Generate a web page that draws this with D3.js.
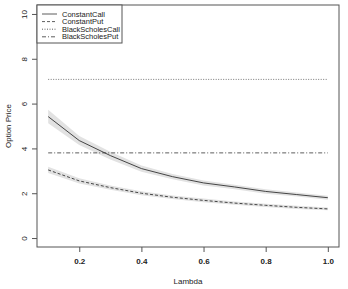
<!DOCTYPE html>
<html>
<head>
<meta charset="utf-8">
<script src="https://cdn.jsdelivr.net/npm/d3@7"></script>
<style>
  body { margin: 0; background: #fff; }
  svg { display: block; font-family: "Liberation Sans", Arial, sans-serif; }
</style>
</head>
<body>
<div id="chart"></div>
<script>
// data
var lambdas = [0.1, 0.2, 0.3, 0.4, 0.5, 0.6, 0.7, 0.8, 0.9, 1.0];
var constantCall = [5.42, 4.35, 3.68, 3.1, 2.74, 2.46, 2.28, 2.08, 1.94, 1.8];
var constantCallSpread = [0.3, 0.2, 0.17, 0.14, 0.12, 0.11, 0.1, 0.1, 0.09, 0.09];
var constantPut = [3.04, 2.55, 2.25, 2.0, 1.82, 1.68, 1.56, 1.46, 1.37, 1.3];
var constantPutSpread = [0.14, 0.12, 0.1, 0.09, 0.08, 0.08, 0.07, 0.07, 0.07, 0.06];
var blackScholesCall = 7.08;
var blackScholesPut = 3.8;
var xTicks = [0.2, 0.4, 0.6, 0.8, 1.0];
var yTicks = [0, 2, 4, 6, 8, 10];
var legendNames = ['ConstantCall', 'ConstantPut', 'BlackScholesCall', 'BlackScholesPut'];
var legendDash = [null, '3,2', '1,1.5', '4,2,1,2'];

var width = 348, height = 289;
var svg = d3.select('#chart').append('svg')
  .attr('width', width).attr('height', height);

// R pads 4% on each side
var x = d3.scaleLinear().domain([0.064, 1.036]).range([37, 339]);
var y = d3.scaleLinear().domain([-0.4, 10.4]).range([247, 5]);

var ink = '#333';
var axisCol = '#555';

// bands
var band = function (vals, spr) {
  return d3.area()
    .x(function (d, i) { return x(lambdas[i]); })
    .y0(function (d, i) { return y(vals[i] - spr[i]); })
    .y1(function (d, i) { return y(vals[i] + spr[i]); })(vals);
};
svg.append('path').attr('d', band(constantCall, constantCallSpread)).attr('fill', '#e2e2e2');
svg.append('path').attr('d', band(constantPut, constantPutSpread)).attr('fill', '#e2e2e2');

var line = d3.line()
  .x(function (d, i) { return x(lambdas[i]); })
  .y(function (d) { return y(d); });

svg.append('path').attr('d', line(constantCall))
  .attr('fill', 'none').attr('stroke', ink).attr('stroke-width', 0.9);
svg.append('path').attr('d', line(constantPut))
  .attr('fill', 'none').attr('stroke', ink).attr('stroke-width', 0.9)
  .attr('stroke-dasharray', legendDash[1]);

// black-scholes levels
svg.append('line')
  .attr('x1', x(lambdas[0])).attr('x2', x(lambdas[lambdas.length - 1]))
  .attr('y1', y(blackScholesCall)).attr('y2', y(blackScholesCall))
  .attr('stroke', '#555').attr('stroke-width', 0.8).attr('stroke-dasharray', legendDash[2]);
svg.append('line')
  .attr('x1', x(lambdas[0])).attr('x2', x(lambdas[lambdas.length - 1]))
  .attr('y1', y(blackScholesPut)).attr('y2', y(blackScholesPut))
  .attr('stroke', ink).attr('stroke-width', 0.8).attr('stroke-dasharray', legendDash[3]);

// axes
var xAxis = svg.append('g').attr('transform', 'translate(0,247)')
  .call(d3.axisBottom(x).tickValues(xTicks).tickFormat(d3.format('.1f')).tickSize(5).tickPadding(6));
var yAxis = svg.append('g').attr('transform', 'translate(37,0)')
  .call(d3.axisLeft(y).tickValues(yTicks).tickFormat(d3.format('d')).tickSize(5));
[xAxis, yAxis].forEach(function (g) {
  g.select('.domain').remove();
  g.selectAll('line').attr('stroke', axisCol);
  g.selectAll('text').attr('fill', '#222').attr('font-size', '8px')
    .attr('font-family', '"Liberation Sans", Arial, sans-serif');
});
xAxis.selectAll('text').attr('font-weight', 'bold');
yAxis.selectAll('text')
  .attr('x', 0).attr('y', 0).attr('dy', '0.35em')
  .attr('transform', 'translate(-13,0) rotate(-90)')
  .attr('text-anchor', 'middle');

// box
svg.append('rect')
  .attr('x', 37).attr('y', 5).attr('width', 302).attr('height', 242)
  .attr('fill', 'none').attr('stroke', axisCol).attr('stroke-width', 1);

// titles
svg.append('text').attr('x', 188).attr('y', 284).attr('text-anchor', 'middle')
  .attr('font-size', '8px').attr('fill', '#222').text('Lambda');
svg.append('text').attr('transform', 'translate(11,126) rotate(-90)').attr('text-anchor', 'middle')
  .attr('font-size', '8px').attr('fill', '#222').text('Option Price');

// legend
var legend = svg.append('g');
legend.append('rect').attr('x', 37).attr('y', 5).attr('width', 85).attr('height', 38)
  .attr('fill', '#fff').attr('stroke', axisCol).attr('stroke-width', 1);
legendNames.forEach(function (name, i) {
  var ly = 14 + i * 7.6;
  legend.append('line').attr('x1', 42).attr('x2', 57).attr('y1', ly).attr('y2', ly)
    .attr('stroke', ink).attr('stroke-width', 0.8)
    .attr('stroke-dasharray', legendDash[i]);
  legend.append('text').attr('x', 62).attr('y', ly).attr('dy', '0.35em')
    .attr('font-size', '7.5px').attr('fill', '#222').text(name);
});
</script>
</body>
</html>
